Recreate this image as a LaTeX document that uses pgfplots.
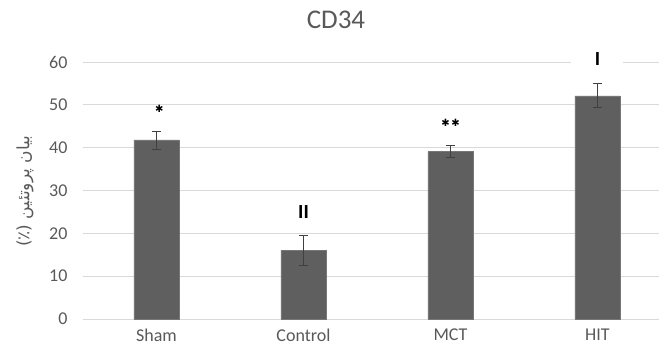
\documentclass[border=0pt]{standalone}
\usepackage{pgfplots}
\pgfplotsset{compat=1.18}
\usepackage{fontspec}
\setmainfont{Carlito}
\newfontfamily\arabicfont[Script=Arabic]{DejaVu Sans}
\newfontfamily\symfont{DejaVu Sans}
\TeXXeTstate=1
\definecolor{bargray}{HTML}{5F5F5F}
\definecolor{gridgray}{HTML}{D9D9D9}
\definecolor{textgray}{HTML}{595959}
\definecolor{errgray}{HTML}{404040}
\begin{document}
\begin{tikzpicture}
\clip (-83pt,-33pt) rectangle (576pt,319pt);
\begin{axis}[
  scale only axis,
  width=588pt, height=257pt,
  xmin=-0.5, xmax=3.5, ymin=0, ymax=60,
  ytick={0,10,...,60},
  xtick={0,1,2,3},
  xticklabels={Sham,Control,MCT,HIT},
  ymajorgrids, grid style={gridgray, line width=0.8pt},
  axis line style={draw=none},
  major tick length=0pt,
  /pgf/number format/assume math mode=true,
  tick label style={font=\fontsize{18}{20}\selectfont, text=textgray},
  yticklabel style={xshift=-12pt},
  xticklabel style={yshift=-6pt},
  clip=false,
]
\addplot[ybar, bar width=45pt, fill=bargray, draw=bargray!85!white,
  error bars/.cd, y dir=both, y explicit,
  error bar style={errgray, line width=0.7pt},
  error mark options={rotate=90, mark size=4.5pt, errgray, line width=0.7pt}]
  coordinates {(0,41.8) +- (0,2.1) (1,16.0) +- (0,3.5) (2,39.1) +- (0,1.4) (3,52.1) +- (0,2.8)};
\node[font=\symfont\fontsize{10}{11}\selectfont] at (axis cs:0.02,49.0) {✱};
\node[font=\symfont\fontsize{10}{11}\selectfont] at (axis cs:2.0,45.8) {✱\,✱};
\node[font=\bfseries\fontsize{20}{22}\selectfont] at (axis cs:1.0,25.0) {II};
\node[font=\bfseries\fontsize{20}{22}\selectfont, fill=white, minimum width=52pt, inner ysep=1pt] at (axis cs:3.0,60.8) {I};
\node[rotate=90, text=textgray, font=\arabicfont\fontsize{17}{19}\selectfont] at (axis cs:-0.895,29.8) {\beginR بیان پروتئین \beginL(٪)\endL\endR};
\node[text=textgray, font=\fontsize{27}{30}\selectfont] at (axis cs:1.221,69.8) {CD34};
\end{axis}
\end{tikzpicture}
\end{document}
